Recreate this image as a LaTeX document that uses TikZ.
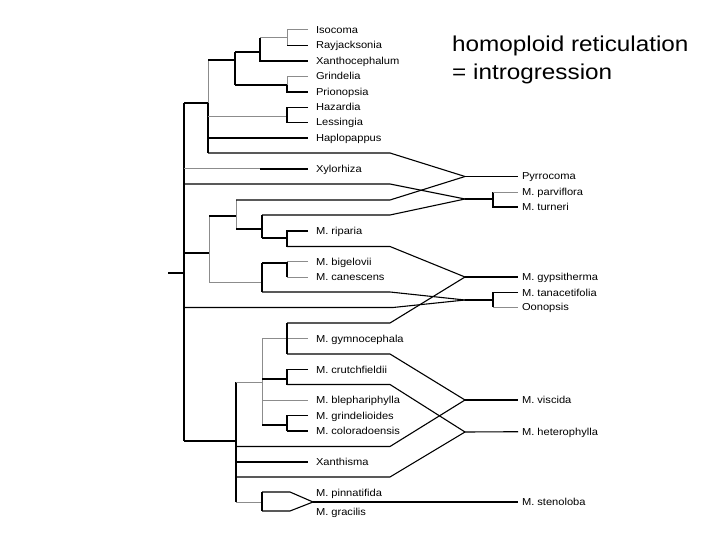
\documentclass[tikz,border=0pt]{standalone}
\usepackage{fontspec}
\setmainfont{Liberation Sans}
\newfontfamily\cladefont[FakeStretch=1.1]{Liberation Sans}
\newfontfamily\titlefont[FakeStretch=1.13]{Liberation Sans}
\usepackage{tikz}
\usetikzlibrary{positioning}

\begin{document}
\begin{tikzpicture}[x=1pt, y=-1pt,
  br/.style={black, line width=1.1pt},
  lt/.style={black!45, line width=1pt},
  tk/.style={black, line width=1.7pt},
  lab/.style={anchor=west, inner sep=0pt, outer xsep=8pt, text height=7pt,
    text depth=0pt, font=\cladefont\fontsize{10.1}{11}\selectfont},
  rlab/.style={lab, outer xsep=4pt},
  title/.style={anchor=base west, inner sep=0pt, font=\titlefont\fontsize{21.5}{26}\selectfont}]
  \fill[white] (0,0) rectangle (720,540);
  \useasboundingbox (0,0) rectangle (720,540);

  % taxa on the left
  \node[lab] (isocoma) at (308,30) {Isocoma};
  \node[lab] (rayjack) at (308,45.5) {Rayjacksonia};
  \node[lab] (xantho) at (308,61) {Xanthocephalum};
  \node[lab] (grindelia) at (308,76.5) {Grindelia};
  \node[lab] (prionopsia) at (308,92) {Prionopsia};
  \node[lab] (hazardia) at (308,107.5) {Hazardia};
  \node[lab] (lessingia) at (308,122.5) {Lessingia};
  \node[lab] (haplo) at (308,138) {Haplopappus};
  \node[lab] (xylorhiza) at (308,169) {Xylorhiza};
  \node[lab] (riparia) at (308,231) {M. riparia};
  \node[lab] (bigelovii) at (308,261.5) {M. bigelovii};
  \node[lab] (canescens) at (308,277) {M. canescens};
  \node[lab] (gymno) at (308,338.5) {M. gymnocephala};
  \node[lab] (crutch) at (308,369.5) {M. crutchfieldii};
  \node[lab] (bleph) at (308,400) {M. blephariphylla};
  \node[lab] (grindel) at (308,415.5) {M. grindelioides};
  \node[lab] (colorado) at (308,431) {M. coloradoensis};
  \node[lab] (xanthisma) at (308,462) {Xanthisma};
  \node[lab] (pinnat) at (308,493) {M. pinnatifida};
  \node[lab] (gracilis) at (308,512) {M. gracilis};

  % hybrid taxa on the right
  \node[rlab] (pyrrocoma) at (518,176.5) {Pyrrocoma};
  \node[rlab] (parviflora) at (518,192.5) {M. parviflora};
  \node[rlab] (turneri) at (518,207) {M. turneri};
  \node[rlab] (gypsi) at (518,277) {M. gypsitherma};
  \node[rlab] (tanac) at (518,292.5) {M. tanacetifolia};
  \node[rlab] (oonopsis) at (518,307) {Oonopsis};
  \node[rlab] (viscida) at (518,400) {M. viscida};
  \node[rlab] (hetero) at (518,431.5) {M. heterophylla};
  \node[rlab] (stenoloba) at (518,502) {M. stenoloba};

  % where the parents meet
  \coordinate (pyr) at (465,176.5);
  \coordinate (parv) at (465,199);
  \coordinate (gyp) at (465,277);
  \coordinate (tan) at (465,300);
  \coordinate (vis) at (465,400);
  \coordinate (het) at (465,432);
  \coordinate (sten) at (313,502);

  \node[title] (reticul) at (452,52) {homoploid reticulation};
  \node[title] (introgr) at (452,80) {= introgression};

  % root
  \draw[br] (168,273) -- (184,273);
  \draw[br] (184,103) -- (184,441);

  % upper clade
  \draw[br] (184,103) -- (208,103);
  \draw[lt] (208,60) -- (208,103);
  \draw[br] (208,103) -- (208,153);
  \draw[br] (208,60) -- (235,60);
  \draw[br] (235,52) -- (235,85);
  \draw[tk] (235,52) -- (260,52);
  \draw[br] (260,38) -- (260,61) -- (xantho);
  \draw[lt] (260,38) -- (287,38);
  \draw[lt] (isocoma) -- (287,30) -- (287,45.5);
  \draw[br] (287,45.5) -- (rayjack);
  \draw[br] (235,85) -- (287,85);
  \draw[lt] (grindelia) -- (287,76.5) -- (287,85);
  \draw[br] (287,85) -- (287,92) -- (prionopsia);
  \draw[lt] (208,117) -- (287,117);
  \draw[br] (hazardia) -- (287,107.5) -- (287,122.5) -- (lessingia);
  \draw[tk] (208,138) -- (haplo);
  \draw[br] (208,153) -- (390,153) -- (pyr);

  \draw[lt] (184,169) -- (260,169);
  \draw[br] (260,169) -- (xylorhiza);
  \draw[br] (184,184) -- (390,184) -- (parv);

  % middle clade
  \draw[br] (184,253) -- (209,253);
  \draw[lt] (209,216) -- (209,282);
  \draw[br] (209,216) -- (236,216);
  \draw[lt] (236,200) -- (236,229);
  \draw[br] (236,200) -- (390,200) -- (pyr);
  \draw[br] (236,229) -- (262,229);
  \draw[br] (262,215) -- (262,238);
  \draw[br] (262,215) -- (390,215) -- (parv);
  \draw[br] (262,238) -- (287,238);
  \draw[tk] (riparia) -- (287,231) -- (287,246.5);
  \draw[br] (287,246.5) -- (390,246.5) -- (gyp);
  \draw[lt] (209,282) -- (262,282);
  \draw[br] (262,263) -- (262,292);
  \draw[br] (262,263) -- (287,263);
  \draw[lt] (bigelovii) -- (287,261.5);
  \draw[br] (287,261.5) -- (287,277);
  \draw[lt] (287,277) -- (canescens);
  \draw[br] (262,292) -- (390,292) -- (tan);
  \draw[br] (184,307.5) -- (393,307.5) -- (tan);

  % lower clade
  \draw[br] (184,441) -- (236,441);
  \draw[br] (236,382) -- (236,502);
  \draw[lt] (236,382) -- (262,382);
  \draw[lt] (262,338.5) -- (262,425);
  \draw[lt] (262,338.5) -- (gymno);
  \draw[br] (287,323) -- (287,354);
  \draw[br] (287,323) -- (390,323) -- (gyp);
  \draw[br] (287,354) -- (390,354) -- (vis);
  \draw[br] (262,379) -- (287,379);
  \draw[tk] (crutch) -- (287,369.5) -- (287,384.5);
  \draw[br] (287,384.5) -- (390,384.5) -- (het);
  \draw[lt] (262,400) -- (bleph);
  \draw[br] (262,425) -- (287,425);
  \draw[br] (grindel) -- (287,415.5) -- (287,431);
  \draw[tk] (287,431) -- (colorado);
  \draw[br] (236,446.5) -- (390,446.5) -- (vis);
  \draw[tk] (236,462) -- (xanthisma);
  \draw[br] (236,477) -- (390,477) -- (het);
  \draw[lt] (236,502) -- (262,502);
  \draw[br] (262,492) -- (262,511);
  \draw[br] (262,492) -- (290,492) -- (sten);
  \draw[br] (262,511) -- (290,511) -- (sten);
  \draw[br] (sten) -- (stenoloba);

  % hybrids
  \draw[br] (pyr) -- (pyrrocoma);
  \draw[br] (parv) -- (493,199);
  \draw[br] (493,192.5) -- (493,207) -- (turneri);
  \draw[lt] (493,192.5) -- (parviflora);
  \draw[br] (gyp) -- (gypsi);
  \draw[tk] (tan) -- (493,300);
  \draw[br] (tanac) -- (493,292.5) -- (493,307);
  \draw[lt] (493,307) -- (oonopsis);
  \draw[br] (vis) -- (viscida);
  \draw[br] (het) -- (hetero);
\end{tikzpicture}
\end{document}
